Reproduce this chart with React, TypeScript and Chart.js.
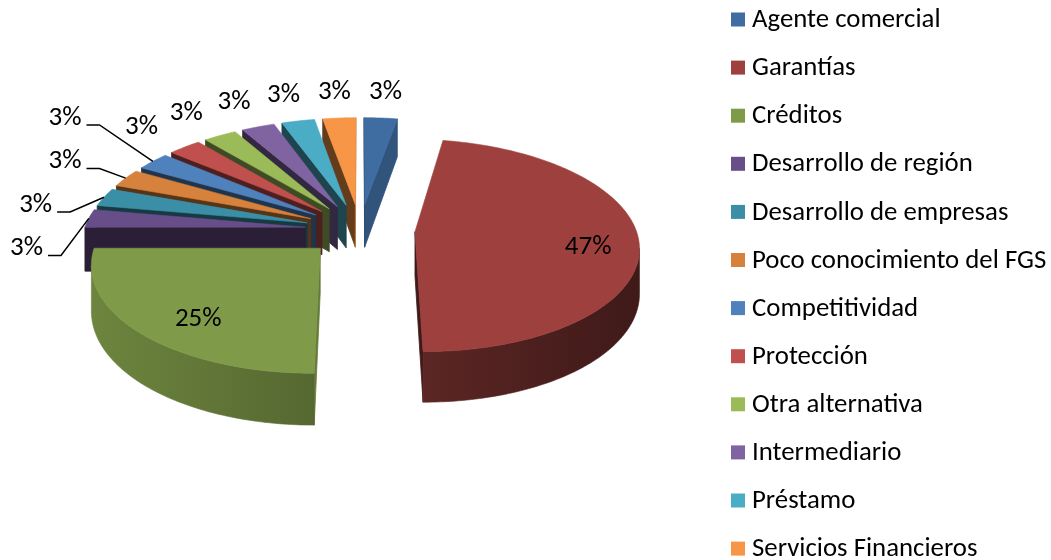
import { useEffect, useRef } from 'react';
import { Chart, registerables } from 'chart.js';

Chart.register(...registerables);

// ---------- data ----------
const categories = [
  'Agente comercial',
  'Garantías',
  'Créditos',
  'Desarrollo de región',
  'Desarrollo de empresas',
  'Poco conocimiento del FGS',
  'Competitividad',
  'Protección',
  'Otra alternativa',
  'Intermediario',
  'Préstamo',
  'Servicios Financieros',
];
const responses = [1, 17, 9, 1, 1, 1, 1, 1, 1, 1, 1, 1];
const sliceColors = [
  '#3F6CA1', '#9E413E', '#7F9A48', '#684E88', '#3A8FA6', '#D6823C',
  '#4F81BD', '#C0504D', '#9BBB59', '#8064A2', '#4BACC6', '#F79646',
];

// ---------- style ----------
const FONT = '"Calibri", "Carlito", "Lato", sans-serif';
const LABEL_SIZE = 27;
const LEGEND_SIZE = 26.8;
const TILT = 0.47; // vertical squash of the disc
const PERSPECTIVE = 0.128; // far side shrink
const EXPLODE = 0.249; // explode distance, fraction of radius
const DEPTH = 44; // slab thickness (px)
const OUTSIDE_LABEL_RADIUS = 1.6;
const INSIDE_LABEL_RADIUS = 0.74;
const INSIDE_SHIFT_X = 8;
const LEADER_COLUMN_MAX_X = 65;
const LEADER_SPACING = 43.5;
const LEGEND_X = 731;
const LEGEND_Y = 19.5;
const LEGEND_STEP = 48.1;
const SWATCH = 14;

function shade(hex: string, f: number) {
  const h = hex.replace('#', '');
  const r = Math.round(parseInt(h.slice(0, 2), 16) * f);
  const g = Math.round(parseInt(h.slice(2, 4), 16) * f);
  const b = Math.round(parseInt(h.slice(4, 6), 16) * f);
  return `rgb(${Math.min(255, r)},${Math.min(255, g)},${Math.min(255, b)})`;
}

function sliceGeometry(arc: any) {
  const p = arc.getProps(['x', 'y', 'startAngle', 'endAngle', 'outerRadius'], true);
  const R = p.outerRadius;
  const mid = (p.startAngle + p.endAngle) / 2;
  const E = EXPLODE * R;
  const c = PERSPECTIVE / R;
  const proj = (u: number, v: number, h: number) => {
    const f = 1 / (1 - c * v);
    return { x: p.x + u * f, y: p.y + (v * TILT + h) * f };
  };
  const tip = { u: E * Math.cos(mid), v: E * Math.sin(mid) };
  const pts = [tip];
  const span = p.endAngle - p.startAngle;
  const steps = Math.max(2, Math.ceil(span / (Math.PI / 180)));
  for (let k = 0; k <= steps; k++) {
    const t = p.startAngle + (span * k) / steps;
    pts.push({ u: tip.u + R * Math.cos(t), v: tip.v + R * Math.sin(t) });
  }
  return { x: p.x, y: p.y, R, E, mid, proj, pts, tip };
}

const pie3d = {
  id: 'pie3d',
  beforeDatasetsDraw(chart: any) {
    const ctx = chart.ctx as CanvasRenderingContext2D;
    const meta = chart.getDatasetMeta(0);
    const colors = chart.data.datasets[0].backgroundColor as string[];
    const list = meta.data.map((arc: any, i: number) => ({ i, g: sliceGeometry(arc) }));
    list.sort((a: any, b: any) => a.g.tip.v - b.g.tip.v);
    ctx.save();
    ctx.lineJoin = 'round';
    for (const { i, g } of list) {
      const color = colors[i];
      const T = g.pts.map((q: any) => g.proj(q.u, q.v, 0));
      const B = g.pts.map((q: any) => g.proj(q.u, q.v, DEPTH));
      const n = T.length;
      let cx = 0, cy = 0;
      T.forEach((p: any) => { cx += p.x; cy += p.y; });
      cx /= n; cy /= n;
      const reach = g.E + g.R;
      const grad = ctx.createLinearGradient(g.x - reach, 0, g.x + reach, 0);
      grad.addColorStop(0, shade(color, 0.87));
      grad.addColorStop(1, shade(color, 0.4));

      const normalOf = (a: number) => {
        const b = (a + 1) % n;
        const dx = T[b].x - T[a].x;
        const dy = T[b].y - T[a].y;
        let nx = dy, ny = -dx;
        const mx = (T[a].x + T[b].x) / 2 - cx;
        const my = (T[a].y + T[b].y) / 2 - cy;
        if (nx * mx + ny * my < 0) { nx = -nx; ny = -ny; }
        const len = Math.hypot(nx, ny) || 1;
        return { nx: nx / len, ny: ny / len };
      };

      // radial walls
      for (const a of [0, n - 1]) {
        const b = (a + 1) % n;
        const { nx, ny } = normalOf(a);
        if (ny <= 0) continue;
        const style = shade(color, 0.4 + 0.4 * Math.max(0, nx));
        ctx.beginPath();
        ctx.moveTo(T[a].x, T[a].y);
        ctx.lineTo(T[b].x, T[b].y);
        ctx.lineTo(B[b].x, B[b].y);
        ctx.lineTo(B[a].x, B[a].y);
        ctx.closePath();
        ctx.fillStyle = style;
        ctx.strokeStyle = style;
        ctx.lineWidth = 0.8;
        ctx.fill();
        ctx.stroke();
      }

      // curved outer wall, drawn as contiguous visible runs
      let runStart = -1;
      const flush = (s: number, e: number) => {
        ctx.beginPath();
        for (let k = s; k <= e + 1; k++) {
          if (k === s) ctx.moveTo(T[k].x, T[k].y);
          else ctx.lineTo(T[k].x, T[k].y);
        }
        for (let k = e + 1; k >= s; k--) ctx.lineTo(B[k].x, B[k].y);
        ctx.closePath();
        ctx.fillStyle = grad;
        ctx.strokeStyle = grad;
        ctx.lineWidth = 0.6;
        ctx.fill();
        ctx.stroke();
      };
      for (let a = 1; a <= n - 2; a++) {
        const vis = normalOf(a).ny > 0;
        if (vis && runStart < 0) runStart = a;
        if (!vis && runStart >= 0) { flush(runStart, a - 1); runStart = -1; }
      }
      if (runStart >= 0) flush(runStart, n - 2);

      // top face
      ctx.beginPath();
      T.forEach((p: any, k: number) => (k ? ctx.lineTo(p.x, p.y) : ctx.moveTo(p.x, p.y)));
      ctx.closePath();
      ctx.fillStyle = color;
      ctx.strokeStyle = color;
      ctx.lineWidth = 0.6;
      ctx.fill();
      ctx.stroke();
    }
    ctx.restore();
    return false;
  },
};

const pieLabels = {
  id: 'pieLabels',
  afterDraw(chart: any) {
    const ctx = chart.ctx as CanvasRenderingContext2D;
    const meta = chart.getDatasetMeta(0);
    const data = chart.data.datasets[0].data as number[];
    const total = data.reduce((s, v) => s + v, 0);
    ctx.save();
    ctx.font = `${LABEL_SIZE}px ${FONT}`;
    ctx.fillStyle = '#000';
    ctx.textAlign = 'center';
    ctx.textBaseline = 'middle';
    const leaders: any[] = [];
    meta.data.forEach((arc: any, i: number) => {
      const g = sliceGeometry(arc);
      const frac = data[i] / total;
      const text = `${Math.round(frac * 100)}%`;
      const cm = Math.cos(g.mid), sm = Math.sin(g.mid);
      if (frac >= 0.1) {
        const w = g.E + INSIDE_LABEL_RADIUS * g.R;
        const q = g.proj(w * cm, w * sm, DEPTH * 0.2);
        ctx.fillText(text, q.x + INSIDE_SHIFT_X, q.y);
        return;
      }
      const w = OUTSIDE_LABEL_RADIUS * g.R;
      const nat = g.proj(w * cm, w * sm, 0);
      let m = g.mid % (2 * Math.PI);
      if (m < 0) m += 2 * Math.PI;
      if (m >= Math.PI && m <= 1.22 * Math.PI) {
        const anchor = g.proj((g.E + g.R) * cm, (g.E + g.R) * sm, 0);
        leaders.push({ text, nat, anchor });
      } else {
        ctx.fillText(text, nat.x, nat.y);
      }
    });
    if (leaders.length) {
      leaders.sort((a, b) => a.nat.y - b.nat.y);
      const mean = leaders.reduce((s, l) => s + l.nat.y, 0) / leaders.length;
      ctx.strokeStyle = '#000';
      ctx.lineWidth = 1.5;
      leaders.forEach((l, k) => {
        const half = ctx.measureText(l.text).width / 2;
        const x = Math.max(half + 10, Math.min(l.nat.x, LEADER_COLUMN_MAX_X));
        const y = mean + 5 + (k - (leaders.length - 1) / 2) * LEADER_SPACING;
        ctx.fillText(l.text, x, y);
        const ly = y + 7;
        ctx.beginPath();
        ctx.moveTo(x + half + 5, ly);
        ctx.lineTo(x + half + 18, ly);
        ctx.lineTo(l.anchor.x, l.anchor.y);
        ctx.stroke();
      });
    }
    ctx.restore();
  },
};

const sideLegend = {
  id: 'sideLegend',
  afterDraw(chart: any) {
    const ctx = chart.ctx as CanvasRenderingContext2D;
    const colors = chart.data.datasets[0].backgroundColor as string[];
    ctx.save();
    ctx.font = `${LEGEND_SIZE}px ${FONT}`;
    ctx.textAlign = 'left';
    ctx.textBaseline = 'middle';
    (chart.data.labels as string[]).forEach((lab, i) => {
      const y = LEGEND_Y + i * LEGEND_STEP;
      ctx.fillStyle = colors[i];
      ctx.fillRect(LEGEND_X, y - SWATCH / 2, SWATCH, SWATCH);
      ctx.fillStyle = '#000';
      ctx.fillText(lab, LEGEND_X + SWATCH + 7, y + 1);
    });
    ctx.restore();
  },
};

export default function App() {
  const ref = useRef<HTMLCanvasElement>(null);
  useEffect(() => {
    document.body.style.margin = '0';
    const chart = new Chart(ref.current as HTMLCanvasElement, {
      type: 'pie',
      data: {
        labels: categories,
        datasets: [{ data: responses, backgroundColor: sliceColors, borderWidth: 0 }],
      },
      options: {
        responsive: false,
        animation: false,
        devicePixelRatio: 1,
        layout: { padding: { left: 139, right: 470, top: 8.5, bottom: 109.5 } },
        plugins: { legend: { display: false }, tooltip: { enabled: false } },
      },
      plugins: [pie3d, pieLabels, sideLegend],
    } as any);
    return () => chart.destroy();
  }, []);
  return <canvas ref={ref} width={1051} height={560} style={{ display: 'block' }} />;
}
